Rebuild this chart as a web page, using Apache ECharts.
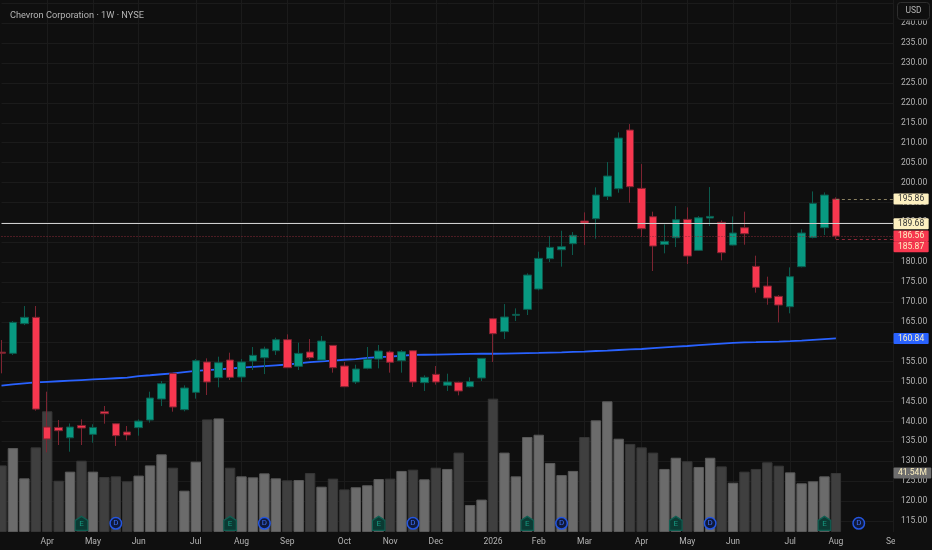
<!DOCTYPE html>
<html>
<head>
<meta charset="utf-8">
<style>html,body{margin:0;padding:0;background:#0f0f0f}#c{width:932px;height:550px}</style>
<script src="https://cdn.jsdelivr.net/npm/echarts@6/dist/echarts.min.js"></script>
</head>
<body>
<div id="c"></div>
<script>
const weeks = ['2025-03-10','2025-03-17','2025-03-24','2025-03-31','2025-04-07','2025-04-14','2025-04-21','2025-04-28','2025-05-05','2025-05-12','2025-05-19','2025-05-26','2025-06-02','2025-06-09','2025-06-16','2025-06-23','2025-06-30','2025-07-07','2025-07-14','2025-07-21','2025-07-28','2025-08-04','2025-08-11','2025-08-18','2025-08-25','2025-09-01','2025-09-08','2025-09-15','2025-09-22','2025-09-29','2025-10-06','2025-10-13','2025-10-20','2025-10-27','2025-11-03','2025-11-10','2025-11-17','2025-11-24','2025-12-01','2025-12-08','2025-12-15','2025-12-22','2025-12-29','2026-01-05','2026-01-12','2026-01-19','2026-01-26','2026-02-02','2026-02-09','2026-02-16','2026-02-23','2026-03-02','2026-03-09','2026-03-16','2026-03-23','2026-03-30','2026-04-06','2026-04-13','2026-04-20','2026-04-27','2026-05-04','2026-05-11','2026-05-18','2026-05-25','2026-06-01','2026-06-08','2026-06-15','2026-06-22','2026-06-29','2026-07-06','2026-07-13','2026-07-20','2026-07-27','2026-08-03','2026-08-10','2026-08-17','2026-08-24','2026-08-31','2026-09-07'];
const monthTicks = {'2025-04-07':'Apr','2025-05-05':'May','2025-06-02':'Jun','2025-07-07':'Jul','2025-08-04':'Aug','2025-09-01':'Sep','2025-10-06':'Oct','2025-11-03':'Nov','2025-12-01':'Dec','2026-01-05':'2026','2026-02-02':'Feb','2026-03-02':'Mar','2026-04-06':'Apr','2026-05-04':'May','2026-06-01':'Jun','2026-07-06':'Jul','2026-08-03':'Aug','2026-09-07':'Sep'};
const opens = [157.4,157.1,164.56,166.15,138.6,138.5,135.9,139.0,136.76,142.45,139.44,137.35,138.44,140.36,145.64,152.08,142.96,147.31,154.93,151.0,155.43,151.16,155.18,156.0,157.77,160.54,153.84,157.44,155.43,159.11,153.92,149.91,153.34,155.68,157.44,155.26,157.77,149.74,151.83,149.07,149.82,148.73,150.91,165.81,162.55,166.65,168.15,173.26,180.88,183.13,184.64,190.34,190.92,196.53,198.45,213.19,198.54,191.42,184.47,186.15,190.75,182.97,191.09,190.0,184.31,188.66,178.95,174.01,171.42,168.82,178.87,186.23,188.66,195.86];
const closes = [157.15,164.89,166.15,143.1,135.6,137.68,138.6,138.35,138.5,141.95,136.43,136.6,140.1,145.89,149.49,143.63,148.4,155.26,149.91,154.76,151.08,154.93,156.6,158.2,160.54,153.5,157.1,156.02,160.2,153.5,148.73,153.17,155.6,157.69,154.85,157.52,149.91,151.08,149.91,149.91,147.65,150.0,155.85,162.04,166.23,166.9,176.77,180.96,183.72,183.89,186.74,189.83,196.86,201.64,211.18,198.96,188.41,184.06,185.23,190.67,181.54,191.17,191.5,182.38,187.32,187.15,173.68,171.0,169.24,176.36,187.32,194.77,196.86,186.56];
const highs = [160.45,165.2,168.99,168.99,147.48,140.36,139.5,140.53,139.3,143.88,139.6,138.85,140.53,147.48,150.16,152.25,149.07,155.68,155.85,156.27,157.27,155.68,158.7,158.78,161.04,161.88,159.78,160.7,161.46,159.2,154.93,154.26,158.7,159.2,157.77,157.94,157.94,151.58,153.92,152.0,150.0,151.08,155.85,165.98,169.49,168.4,177.2,182.63,186.57,187.91,187.57,192.51,198.79,205.15,212.6,214.69,204.65,192.68,189.5,194.1,193.77,191.59,198.87,190.5,191.5,192.68,181.63,176.36,171.75,178.7,188.24,197.78,197.53,196.3];
const lows = [152.08,156.7,164.2,142.7,132.24,134.08,132.4,134.08,134.67,139.44,133.83,135.26,136.43,139.69,143.88,142.45,142.54,145.72,146.64,148.57,150.41,149.91,152.92,151.9,156.69,153.5,152.92,155.6,155.43,152.25,148.7,149.4,153.09,153.34,152.25,152.25,148.65,147.65,149.24,147.65,146.56,148.57,150.16,154.93,160.7,165.22,166.73,172.92,180.04,178.87,181.8,184.3,185.9,195.61,197.45,194.94,186.4,177.78,182.22,183.8,179.54,182.8,189.08,180.46,184.2,184.39,172.34,169.32,164.89,167.15,178.7,185.98,186.82,185.87];
const volumes = [46.9,59.1,37.8,59.6,85.0,36.1,42.5,50.2,42.5,38.7,39.2,35.7,39.7,46.9,54.7,45.3,29.1,49.5,79.3,80.0,45.3,39.2,38.5,41.3,37.8,36.4,36.6,41.5,31.9,37.6,30.0,31.5,32.9,37.3,37.6,43.0,43.9,37.1,45.3,44.4,55.9,19.0,22.8,93.9,55.9,39.2,66.9,68.5,48.6,40.1,43.0,66.9,78.6,92.0,65.7,62.0,59.6,55.9,44.4,52.3,49.8,45.8,52.3,46.2,34.7,42.5,44.4,49.1,46.7,42.0,34.3,35.7,39.2,41.54];
const movingAverage = [149.0,149.3,149.55,149.8,149.95,150.1,150.25,150.4,150.55,150.7,150.85,151.0,151.4,151.6,151.85,152.1,152.4,152.7,152.9,153.1,153.3,153.5,153.7,153.9,154.1,154.3,154.6,154.9,155.1,155.3,155.5,155.65,155.95,156.15,156.3,156.5,156.7,156.75,156.8,156.85,156.9,156.95,157.0,157.0,157.05,157.1,157.15,157.2,157.3,157.35,157.45,157.55,157.7,157.8,157.95,158.1,158.2,158.4,158.6,158.8,158.95,159.15,159.35,159.55,159.75,159.85,159.9,160.0,160.05,160.15,160.3,160.5,160.7,160.84];
const earningsWeeks = ['2025-04-28','2025-07-28','2025-10-27','2026-01-26','2026-04-27','2026-07-27'];
const dividendWeeks = ['2025-05-19','2025-08-18','2025-11-17','2026-02-16','2026-05-18','2026-08-17'];
const markerLevel = 6.1;
const lastVolumeLabel = '41.54M';

const GREEN='#089981', RED='#f7374f', GREENW='#0c5a4d', REDW='#7d2431';
const BG='#0f0f0f', GRID='#1b1b1b', TXT='#b4b4b4', CREAM='#fdf0c0';
const gridLeft=1.5, gridWidth=78*11.43;

const candleData = opens.map((o,i)=>[o,closes[i],lows[i],highs[i]]);
const volData = volumes.map((v,i)=>({value:v,itemStyle:closes[i]>=opens[i]?{color:'#6b6b6b',borderColor:'#5a5a5a',borderWidth:1}:{color:'#3f3f3f',borderColor:'#363636',borderWidth:1}}));
const gridColors=[]; for(let p=110;p<=245;p+=5) gridColors.push(p===110?'transparent':GRID); gridColors.push('transparent');

function tag(text,bg,fg,dy){
  return {show:true,position:'end',distance:0.5,formatter:text,backgroundColor:bg,color:fg,padding:[1.5,4.5,1,4.5],lineHeight:8.5,align:'left',verticalAlign:'middle',fontFamily:'Roboto',fontSize:8.5,offset:[0,dy||0],borderRadius:1};
}
const first=weeks[73], last=weeks[78];
const option={
  animation:false,
  backgroundColor:BG,
  title:{text:'Chevron Corporation · 1W · NYSE',left:5,top:6,textStyle:{color:'#b4b4b4',fontSize:9.2,fontWeight:'normal',fontFamily:'Roboto'}},
  grid:[
    {left:gridLeft,width:gridWidth,top:0,bottom:9.1},
    {left:gridLeft,width:gridWidth,top:0,height:532}
  ],
  xAxis:[
    {type:'category',gridIndex:0,data:weeks,show:false,boundaryGap:false},
    {type:'category',gridIndex:1,data:weeks,boundaryGap:false,
     axisLine:{show:false},axisTick:{show:false},
     axisLabel:{interval:(i,v)=>!!monthTicks[v],formatter:v=>monthTicks[v]||'',color:TXT,fontSize:8.5,fontFamily:'Roboto',margin:5,hideOverlap:false,showMaxLabel:true},
     splitLine:{show:true,interval:(i,v)=>!!monthTicks[v],lineStyle:{color:GRID,width:1}}}
  ],
  yAxis:[
    {type:'value',gridIndex:0,position:'right',min:110,max:245.85,interval:5,
     axisLine:{show:false},axisTick:{show:false},
     axisLabel:{margin:8,color:TXT,fontSize:8.5,fontFamily:'Roboto',
       formatter:v=>(v<115||v>240)?'':v.toFixed(2)},
     splitLine:{show:true,lineStyle:{color:gridColors,width:1}}},
    {type:'value',gridIndex:1,min:0,max:374.6,show:false,splitLine:{show:false}}
  ],
  series:[
    {type:'bar',name:'Volume',xAxisIndex:1,yAxisIndex:1,data:volData,barWidth:10.4,z:1,clip:false,
     markLine:{silent:true,symbol:'none',z:7,lineStyle:{color:'transparent'},
       data:[{yAxis:41.54,label:tag(lastVolumeLabel,'#6e6e6e',CREAM)}]}},
    {type:'line',name:'MA',xAxisIndex:0,yAxisIndex:0,data:movingAverage,showSymbol:false,smooth:false,z:3,clip:false,
     lineStyle:{color:'#2962ff',width:1.8},itemStyle:{color:'#2962ff'},
     markLine:{silent:true,symbol:'none',z:7,lineStyle:{color:'transparent'},
       data:[{yAxis:160.84,label:tag('160.84','#2962ff',CREAM)}]}},
    {type:'candlestick',name:'CVX',xAxisIndex:0,yAxisIndex:0,data:candleData,barWidth:8,z:4,clip:false,
     itemStyle:{color:GREEN,color0:RED,borderColor:GREENW,borderColor0:REDW,borderWidth:1},
     markLine:{silent:true,symbol:'none',z:6,
       data:[
         {yAxis:189.68,lineStyle:{color:'#cfcfcf',width:1.2,type:'solid'},label:tag('189.68',CREAM,'#333')},
         {yAxis:186.56,lineStyle:{color:'#8c2a38',width:1,type:[1,2]},label:tag('186.56',RED,CREAM)},
         [{xAxis:first,yAxis:195.86,lineStyle:{color:'#8a8060',width:1,type:[3,3]},label:tag('195.86',CREAM,'#333')},{xAxis:last,yAxis:195.86}],
         [{xAxis:first,yAxis:185.87,lineStyle:{color:'#8c2a38',width:1,type:[3,3]},label:tag('185.87',RED,CREAM,8)},{xAxis:last,yAxis:185.87}]
       ]}},
    {type:'scatter',name:'Earnings',xAxisIndex:1,yAxisIndex:1,z:5,clip:false,
     data:earningsWeeks.map(w=>[w,markerLevel]),
     symbol:'path://M6,0 L12,4 L12,14 L0,14 L0,4 Z',symbolSize:[12.5,14],
     itemStyle:{color:'#0b3a33',borderColor:'#0f5f52',borderWidth:1.2,opacity:1},
     label:{show:true,formatter:'E',position:'inside',color:'#16977f',fontSize:8,fontFamily:'Roboto',offset:[0,1]}},
    {type:'scatter',name:'Dividends',xAxisIndex:1,yAxisIndex:1,z:5,clip:false,
     data:dividendWeeks.map(w=>[w,markerLevel]),
     symbol:'circle',symbolSize:11.5,
     itemStyle:{color:'#10193a',borderColor:'#2456e0',borderWidth:1.5,opacity:1},
     label:{show:true,formatter:'D',position:'inside',color:'#3a6cf0',fontSize:8,fontFamily:'Roboto'}}
  ],
  graphic:[
    {type:'rect',z:50,shape:{x:895,y:532,width:37,height:18},style:{fill:BG}},
    {type:'rect',z:50,shape:{x:895,y:0,width:37,height:20.5},style:{fill:BG}},
    {type:'rect',z:51,shape:{x:897.5,y:2.5,width:32,height:17,r:3},style:{fill:BG,stroke:'#2e2e2e',lineWidth:1}},
    {type:'text',z:52,x:913.5,y:11,style:{text:'USD',fill:'#b4b4b4',font:'8.5px Roboto',textAlign:'center',textVerticalAlign:'middle'}}
  ]
};
echarts.init(document.getElementById('c'),null,{renderer:'canvas'}).setOption(option);
</script>
</body>
</html>
